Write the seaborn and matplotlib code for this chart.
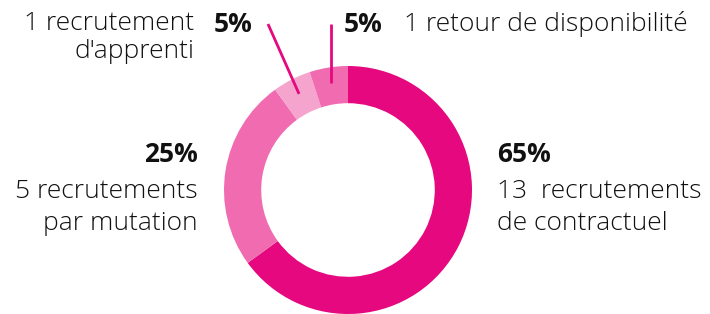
import numpy as np
import matplotlib.pyplot as plt
import seaborn as sns

# Data
categories = ["de contractuel", "par mutation", "d'apprenti", "de disponibilité"]
counts = [13, 5, 1, 1]
percents = ["65%", "25%", "5%", "5%"]
colors = ["#E5087F", "#F06BB0", "#F5A4CE", "#F06BB0"]

sns.set_theme(style="white")
plt.rcParams["font.family"] = ["Open Sans", "DejaVu Sans"]

W, H = 710, 314
fig = plt.figure(figsize=(W / 100, H / 100), dpi=100)

# donut centre (348, 190) px, outer radius 124 px
cx, cy, R = 348, 190, 124
ax = fig.add_axes([(cx - R) / W, (H - cy - R) / H, 2 * R / W, 2 * R / H])
wedges, _ = ax.pie(
    counts,
    colors=colors,
    startangle=90,
    counterclock=False,
    radius=1,
    wedgeprops=dict(width=0.3, edgecolor="none"),
)
ax.set_xlim(-1, 1)
ax.set_ylim(-1, 1)
ax.set_aspect("equal")
ax.axis("off")


def px(x, y):
    return x / W, 1 - y / H


# leader lines for the two small slices
line_col = "#E5087F"
for i, end in [(2, (268, 24)), (3, None)]:
    w = wedges[i]
    ang = np.deg2rad((w.theta1 + w.theta2) / 2)
    x0, y0 = 0.87 * np.cos(ang), 0.87 * np.sin(ang)
    if end is None:
        x1, y1 = x0, (cy - 24) / R
    else:
        x1, y1 = (end[0] - cx) / R, (cy - end[1]) / R
    ax.plot([x0, x1], [y0, y1], color=line_col, lw=2, clip_on=False,
            solid_capstyle="butt")

fs = 19
txt = "#111111"
reg = dict(fontsize=fs, color=txt, va="center", fontweight="light")
bold = dict(fontsize=fs, color=txt, va="center", fontweight="bold")
# top-left: apprenti
fig.text(*px(194, 24), "1 recrutement", ha="right", **reg)
fig.text(*px(194, 52), categories[2], ha="right", **reg)
fig.text(*px(214, 24), percents[2], ha="left", **bold)
# top-right: disponibilité
fig.text(*px(344, 24), percents[3], ha="left", **bold)
fig.text(*px(404, 24), "1 retour " + categories[3], ha="left", **reg)
# left: mutation
fig.text(*px(198, 155), percents[1], ha="right", **bold)
fig.text(*px(198, 191), "5 recrutements", ha="right", **reg)
fig.text(*px(198, 224), categories[1], ha="right", **reg)
# right: contractuel
fig.text(*px(497, 155), percents[0], ha="left", **bold)
fig.text(*px(497, 191), "13  recrutements", ha="left", **reg)
fig.text(*px(497, 224), categories[0], ha="left", **reg)

fig.savefig("out.png", dpi=100, facecolor="white")
